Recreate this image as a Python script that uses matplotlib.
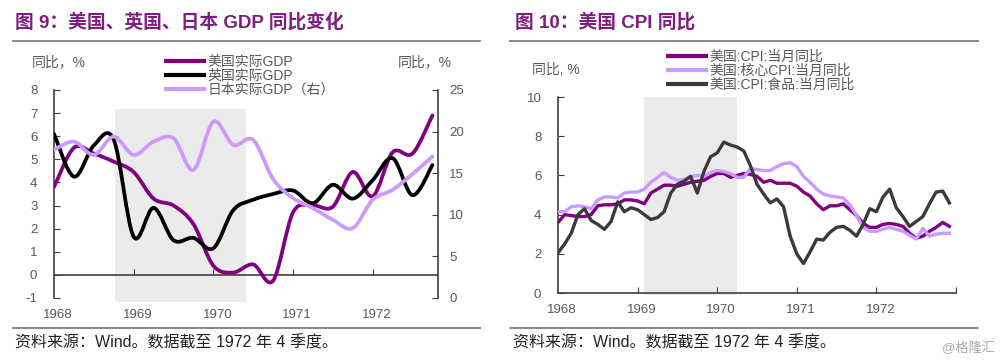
import numpy as np
import matplotlib
matplotlib.use('Agg')
import matplotlib.pyplot as plt
import matplotlib.transforms as mtransforms
from matplotlib.path import Path
from matplotlib.patches import PathPatch
from matplotlib.lines import Line2D

plt.rcParams['font.family'] = ['Liberation Sans', 'Noto Sans CJK SC']
plt.rcParams['axes.unicode_minus'] = False

# ---- 图 9：GDP 季度同比 ----
quarters = np.arange(1968, 1973, 0.25)
us_gdp = [3.8, 5.5, 5.25, 4.9, 4.45, 3.3, 3.0, 2.2, 0.4, 0.1,
          0.45, -0.25, 2.7, 3.0, 2.95, 4.45, 3.4, 5.3, 5.25, 6.9]
uk_gdp = [6.1, 4.25, 5.6, 5.85, 1.65, 2.9, 1.5, 1.6, 1.15, 2.8,
          3.25, 3.5, 3.65, 3.1, 3.9, 3.3, 4.1, 5.05, 3.45, 4.75]
jp_gdp = [17.8, 18.8, 17.2, 19.4, 17.2, 18.8, 19.2, 15.4, 21.2, 18.4,
          19.0, 14.3, 12.0, 10.8, 9.4, 8.4, 11.8, 13.0, 14.9, 17.0]
gdp_labels = ['美国实际GDP', '英国实际GDP', '日本实际GDP（右）']

# ---- 图 10：CPI 月度同比 ----
months = 1968 + np.arange(60) / 12
cpi = [3.6, 4.0, 3.95, 3.9, 3.9, 4.0, 4.45, 4.5, 4.5, 4.55, 4.75, 4.75, 4.7, 4.55, 5.1,
       5.3, 5.5, 5.5, 5.45, 5.55, 5.65, 5.7, 5.75, 5.95, 6.1, 6.1, 5.9, 6.0, 6.1, 6.05,
       5.95, 5.65, 5.75, 5.6, 5.6, 5.6, 5.45, 5.15, 4.95, 4.55, 4.25, 4.45, 4.45, 4.55, 4.25,
       3.95, 3.55, 3.35, 3.35, 3.5, 3.55, 3.5, 3.4, 3.05, 2.8, 2.9, 3.15, 3.35, 3.6, 3.4]
core_cpi = [4.15, 4.15, 4.4, 4.45, 4.4, 4.3, 4.75, 4.9, 4.9, 4.85, 5.1, 5.15, 5.15, 5.3, 5.65,
            5.9, 6.15, 5.9, 5.75, 5.8, 5.95, 6.0, 5.95, 6.15, 6.25, 6.2, 6.1, 5.9, 5.9, 6.35,
            6.3, 6.25, 6.25, 6.45, 6.6, 6.65, 6.45, 5.95, 5.65, 5.3, 5.05, 4.95, 4.9, 4.85, 4.5,
            3.95, 3.35, 3.15, 3.15, 3.25, 3.35, 3.25, 3.15, 2.95, 2.75, 3.3, 2.9, 3.0, 3.05, 3.05]
food_cpi = [2.05, 2.5, 3.05, 4.0, 4.3, 3.7, 3.5, 3.25, 3.65, 4.65, 4.15, 4.35, 4.25, 4.0, 3.75,
            3.85, 4.15, 5.1, 5.55, 5.7, 5.95, 5.1, 6.2, 6.95, 7.15, 7.7, 7.55, 7.45, 7.25, 6.5,
            5.55, 5.05, 4.6, 4.8, 4.4, 2.9, 2.0, 1.5, 2.1, 2.75, 2.7, 3.1, 3.35, 3.4, 3.2,
            2.9, 3.5, 4.3, 4.15, 4.9, 5.3, 4.35, 3.9, 3.4, 3.65, 3.9, 4.55, 5.15, 5.2, 4.6]
cpi_labels = ['美国:CPI:当月同比', '美国:核心CPI:当月同比', '美国:CPI:食品:当月同比']

years = [1968, 1969, 1970, 1971, 1972]
gdp_shade = (1968.77, 1970.41)
cpi_shade = (1969.08, 1970.25)

PURPLE = '#800080'
LAVENDER = '#CC99FF'
BLACK = '#000000'
DARK = '#3A3A3A'
TITLE = '#7E1E80'
GREY_TXT = '#595959'
AXIS = '#404040'
SHADE = '#EBEBEB'


def smooth_path(x, y):
    # 类似 Excel 的平滑线：Catmull-Rom 转三次贝塞尔
    pts = np.column_stack([x, y]).astype(float)
    n = len(pts)
    verts = [pts[0]]
    codes = [Path.MOVETO]
    for i in range(n - 1):
        p0 = pts[i - 1] if i > 0 else pts[i]
        p1 = pts[i]
        p2 = pts[i + 1]
        p3 = pts[i + 2] if i + 2 < n else pts[i + 1]
        verts += [p1 + (p2 - p0) / 6, p2 - (p3 - p1) / 6, p2]
        codes += [Path.CURVE4] * 3
    return Path(verts, codes)


def smooth_line(ax, x, y, color, lw):
    ax.add_patch(PathPatch(smooth_path(x, y), facecolor='none', edgecolor=color,
                           lw=lw, capstyle='round', joinstyle='round', zorder=3))


fig = plt.figure(figsize=(10, 3.62), dpi=100)

# ================= 左图 =================
ax = fig.add_axes([0.054, 0.1768, 0.384, 0.5746])
ax.set_xlim(1968, 1972.82)
ax.set_ylim(-1, 8)
ax.axvspan(*gdp_shade, ymin=-0.02, ymax=0.909, color=SHADE, lw=0, clip_on=False, zorder=0)
smooth_line(ax, quarters, us_gdp, PURPLE, 2.7)
smooth_line(ax, quarters, uk_gdp, BLACK, 2.7)

for s in ['top', 'right']:
    ax.spines[s].set_visible(False)
ax.spines['bottom'].set_position(('data', 0))
for s in ['left', 'bottom']:
    ax.spines[s].set_color(AXIS)
    ax.spines[s].set_linewidth(1.2)
ax.set_xticks(years[1:])
ax.tick_params(axis='x', direction='in', length=4, color=AXIS, labelbottom=False)
ax.set_yticks(range(-1, 9))
ax.tick_params(axis='y', direction='in', length=4, color=AXIS, pad=12,
               labelsize=9.5, labelcolor=GREY_TXT)
trans = mtransforms.blended_transform_factory(ax.transData, ax.transAxes)
for yr in years:
    ax.text(yr + 0.05, -0.082, str(yr), transform=trans, ha='center', va='center',
            fontsize=9.5, color=GREY_TXT)

ax2 = ax.twinx()
ax2.set_ylim(0, 25)
smooth_line(ax2, quarters, jp_gdp, LAVENDER, 2.7)
for s in ['top', 'left', 'bottom']:
    ax2.spines[s].set_visible(False)
ax2.spines['right'].set_color(AXIS)
ax2.spines['right'].set_linewidth(1.2)
ax2.set_yticks(range(0, 30, 5))
ax2.tick_params(axis='y', direction='in', length=4, color=AXIS, pad=8,
                labelsize=9.5, labelcolor=GREY_TXT)

fig.legend(handles=[Line2D([], [], color=c, lw=3) for c in [PURPLE, BLACK, LAVENDER]],
           labels=gdp_labels, loc='upper left', bbox_to_anchor=(0.166, 1 - 55 / 362),
           frameon=False, fontsize=10, handlelength=2.7, handletextpad=0.3,
           labelspacing=0.0, borderpad=0, borderaxespad=0, labelcolor=GREY_TXT)

# ================= 右图 =================
ax3 = fig.add_axes([0.558, 0.1906, 0.398, 0.5414])
ax3.set_xlim(1968, 1973)
ax3.set_ylim(0, 10)
ax3.axvspan(*cpi_shade, ymin=-0.01, ymax=1.0, color=SHADE, lw=0, clip_on=False, zorder=0)
ax3.plot(months, cpi, color=PURPLE, lw=2.4, solid_joinstyle='round', zorder=3)
ax3.plot(months, core_cpi, color=LAVENDER, lw=2.4, solid_joinstyle='round', zorder=3)
ax3.plot(months, food_cpi, color=DARK, lw=2.4, solid_joinstyle='round', zorder=4)

for s in ['top', 'right']:
    ax3.spines[s].set_visible(False)
for s in ['left', 'bottom']:
    ax3.spines[s].set_color(AXIS)
    ax3.spines[s].set_linewidth(1.2)
ax3.set_xticks(years[1:] + [1973])
ax3.tick_params(axis='x', direction='in', length=4, color=AXIS, labelbottom=False)
ax3.set_yticks(range(0, 12, 2))
ax3.tick_params(axis='y', direction='in', length=4, color=AXIS, pad=12,
                labelsize=9.5, labelcolor=GREY_TXT)
trans3 = mtransforms.blended_transform_factory(ax3.transData, ax3.transAxes)
for yr in years:
    ax3.text(yr + 0.05, -0.087, str(yr), transform=trans3, ha='center', va='center',
             fontsize=9.5, color=GREY_TXT)

fig.legend(handles=[Line2D([], [], color=c, lw=3) for c in [PURPLE, LAVENDER, DARK]],
           labels=cpi_labels, loc='upper left', bbox_to_anchor=(0.668, 1 - 50 / 362),
           frameon=False, fontsize=10, handlelength=2.7, handletextpad=0.3,
           labelspacing=0.0, borderpad=0, borderaxespad=0, labelcolor=GREY_TXT)

# ================= 标题、单位、来源 =================
fig.text(0.015, 1 - 22 / 362, '图 9：美国、英国、日本 GDP 同比变化', color=TITLE,
         fontsize=13.5, fontweight='bold', va='center')
fig.text(0.515, 1 - 22 / 362, '图 10：美国 CPI 同比', color=TITLE,
         fontsize=13.5, fontweight='bold', va='center')

fig.text(0.032, 1 - 62 / 362, '同比，%', fontsize=10, color=GREY_TXT, va='center')
fig.text(0.398, 1 - 62 / 362, '同比，%', fontsize=10, color=GREY_TXT, va='center')
fig.text(0.532, 1 - 70 / 362, '同比, %', fontsize=10, color=GREY_TXT, va='center')

for x0, x1 in [(0.013, 0.48), (0.51, 0.978)]:
    for yy in [1 - 41 / 362, 1 - 328 / 362]:
        fig.add_artist(Line2D([x0, x1], [yy, yy], color='#808080', lw=1.3))

fig.text(0.015, 1 - 343 / 362, '资料来源：Wind。数据截至 1972 年 4 季度。',
         fontsize=11.5, color='#222222', va='center')
fig.text(0.513, 1 - 343 / 362, '资料来源：Wind。数据截至 1972 年 4 季度。',
         fontsize=11.5, color='#222222', va='center')
fig.text(0.995, 1 - 348 / 362, '@格隆汇', ha='right', va='center',
         fontsize=9.5, color='#AAAAAA')

fig.savefig('out.png', dpi=100)
